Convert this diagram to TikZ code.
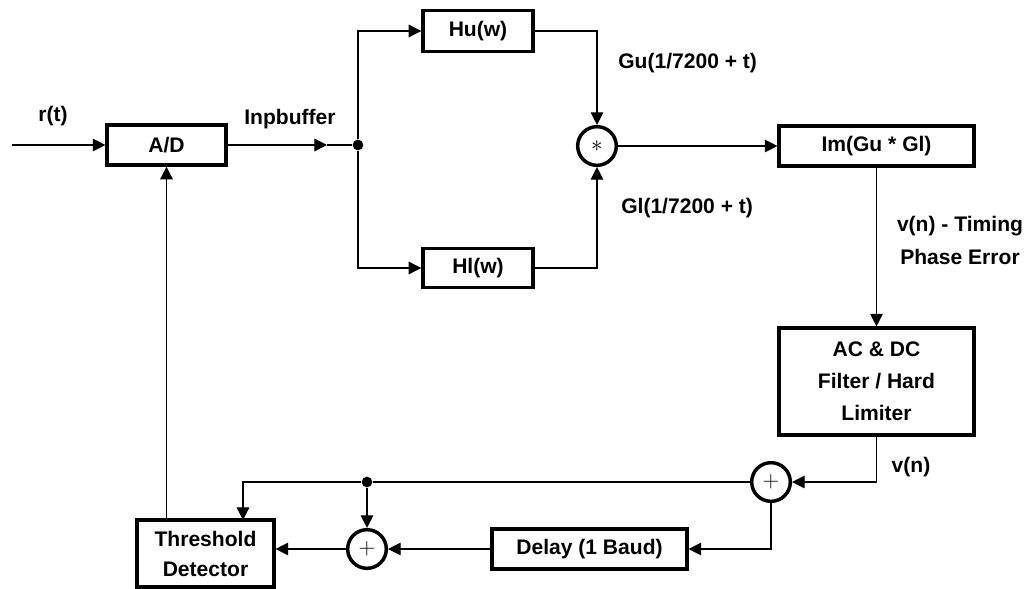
\documentclass[tikz,border=0pt]{standalone}
\usepackage{fontspec}
\setmainfont{Liberation Sans}
\usetikzlibrary{arrows.meta}
\begin{document}
\begin{tikzpicture}[x=0.75pt,y=-0.75pt,
  lbl/.style={font=\bfseries\fontsize{15.8pt}{18pt}\selectfont, inner sep=0pt},
  blk/.style={draw, line width=2.6pt, font=\bfseries\fontsize{15.8pt}{18pt}\selectfont, align=center, inner sep=0pt},
  sumc/.style={draw, circle, line width=2.6pt, minimum size=29pt, inner sep=0pt},
  dotc/.style={fill, circle, minimum size=8pt, inner sep=0pt},
  conn/.style={line width=0.9pt},
  arr/.style={conn, -{Triangle[length=9.5pt,width=9.5pt]}}]
\useasboundingbox (0,0) rectangle (1025,589);
% blocks
\node[blk, minimum width=89pt, minimum height=30pt] (ad) at (166.5,145) {A/D};
\node[blk, minimum width=82.5pt, minimum height=31pt] (hu) at (478,31) {Hu(w)};
\node[blk, minimum width=82.5pt, minimum height=29pt] (hl) at (478,268) {Hl(w)};
\node[blk, minimum width=146pt, minimum height=30pt] (im) at (876.5,146) {Im(Gu * Gl)};
\node[blk, minimum width=146pt, minimum height=80pt, font=\bfseries\fontsize{15.8pt}{24pt}\selectfont] (ac) at (876.5,381.5) {AC \& DC\\Filter / Hard\\Limiter};
\node[blk, minimum width=146pt, minimum height=30pt] (delay) at (589.5,549) {Delay (1 Baud)};
\node[blk, minimum width=102.5pt, minimum height=50pt, font=\bfseries\fontsize{15.8pt}{22.5pt}\selectfont] (thr) at (205.5,553.5) {Threshold\\Detector};
% circles
\node[sumc] (mult) at (597,146) {\fontsize{19pt}{19pt}\selectfont$\ast$};
\node[sumc] (plusa) at (771,482) {\fontsize{17pt}{17pt}\selectfont$+$};
\node[sumc] (plusb) at (367,549) {\fontsize{17pt}{17pt}\selectfont$+$};
% dots and coordinates
\node[dotc] (split) at (358,145) {};
\node[dotc] (fb) at (367,482) {};
\coordinate (in) at (12,145);
\coordinate (ibuf) at (327,145);
\coordinate (thrin) at (243,520);
% labels
\node[lbl] (lr) at (53,116) {r(t)};
\node[lbl] (lib) at (290,119) {Inpbuffer};
\node[lbl, anchor=west] (lgu) at (618,63) {Gu(1/7200 + t)};
\node[lbl, anchor=west] (lgl) at (621,208) {Gl(1/7200 + t)};
\node[lbl] (lt1) at (960,226) {v(n) - Timing};
\node[lbl] (lt2) at (960,257) {Phase Error};
\node[lbl] (lvn) at (911,467) {v(n)};
% connectors
\draw[arr] (in) -- (ad.west);
\draw[arr] (ad.east) -- (ibuf);
\draw[conn] (ibuf) -- (split);
\draw[arr] (split) |- (hu.west);
\draw[arr] (split) |- (hl.west);
\draw[arr] (hu.east) -| (mult.north);
\draw[arr] (hl.east) -| (mult.south);
\draw[arr] (mult.east) -- (im.west);
\draw[arr] (im.south) -- (ac.north);
\draw[arr] (ac.south) |- (plusa.east);
\draw[arr] (plusa.south) |- (delay.east);
\draw[arr] (delay.west) -- (plusb.east);
\draw[arr] (plusb.west) -- (plusb.west -| thr.east);
\draw[conn] (plusa.west) -- (fb);
\draw[arr] (fb) -| (thrin);
\draw[arr] (fb) -- (plusb.north);
\draw[arr] (ad.south |- thr.north) -- (ad.south);
\end{tikzpicture}
\end{document}
